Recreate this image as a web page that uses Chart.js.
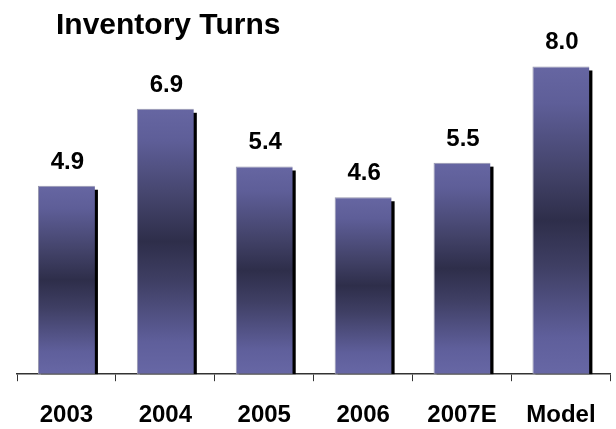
<!DOCTYPE html>
<html>
<head>
<meta charset="utf-8">
<script src="https://cdn.jsdelivr.net/npm/chart.js@4/dist/chart.umd.min.js"></script>
<style>
  html, body { margin: 0; padding: 0; background: #ffffff; }
  #wrap { position: relative; width: 616px; height: 429px; }
  #title {
    position: absolute; left: 56px; top: 9px;
    font: bold 30px "Liberation Sans", Arial, sans-serif; line-height: 30px;
    color: #000; white-space: nowrap;
  }
</style>
</head>
<body>
<div id="wrap">
  <canvas id="chart" width="616" height="429"></canvas>
  <div id="title">Inventory Turns</div>
</div>
<script>
// Inventory turns by year, plus the target model
const categories = ['2003', '2004', '2005', '2006', '2007E', 'Model'];
const turns = [4.9, 6.9, 5.4, 4.6, 5.5, 8.0];
const valueLabels = ['4.9', '6.9', '5.4', '4.6', '5.5', '8.0'];

const FONT = '"Liberation Sans", Arial, sans-serif';

// Each bar gets its own vertical gradient: light ends, dark middle
function barGradient(context) {
  const chart = context.chart;
  const yScale = chart.scales.y;
  if (!yScale || context.dataIndex === undefined) return '#5e5e96';
  const v = context.dataset.data[context.dataIndex];
  const top = yScale.getPixelForValue(v);
  const base = yScale.getPixelForValue(0);
  if (!isFinite(top) || !isFinite(base) || base - top < 1) return '#5e5e96';
  const g = chart.ctx.createLinearGradient(0, top, 0, base);
  g.addColorStop(0.00, '#6666a2');
  g.addColorStop(0.12, '#5e5e98');
  g.addColorStop(0.35, '#424268');
  g.addColorStop(0.50, '#2e2e4a');
  g.addColorStop(0.65, '#3f3f64');
  g.addColorStop(0.88, '#5f5f9b');
  g.addColorStop(1.00, '#6767a5');
  return g;
}

// Hard black drop shadow to the lower right of every bar, stopping at the axis
const barShadow = {
  id: 'barShadow',
  beforeDatasetsDraw(chart) {
    const ctx = chart.ctx;
    const meta = chart.getDatasetMeta(0);
    ctx.save();
    ctx.fillStyle = '#000000';
    meta.data.forEach((bar) => {
      const p = bar.getProps(['x', 'y', 'base', 'width'], true);
      const left = p.x - p.width / 2 + 3;
      const top = p.y + 4;
      ctx.fillRect(left, top, p.width, p.base - top);
    });
    ctx.restore();
  }
};

// Value printed above each bar
const valueTags = {
  id: 'valueTags',
  afterDatasetsDraw(chart) {
    const ctx = chart.ctx;
    const meta = chart.getDatasetMeta(0);
    ctx.save();
    ctx.font = 'bold 24px ' + FONT;
    ctx.fillStyle = '#000000';
    ctx.textAlign = 'center';
    ctx.textBaseline = 'alphabetic';
    meta.data.forEach((bar, i) => {
      ctx.fillText(valueLabels[i], bar.x + 1, bar.y - 17);
    });
    ctx.restore();
  }
};

new Chart(document.getElementById('chart'), {
  type: 'bar',
  data: {
    labels: categories,
    datasets: [{
      data: turns,
      backgroundColor: barGradient,
      borderColor: 'rgba(140,140,165,0.9)',
      borderWidth: { top: 1, left: 1, right: 0, bottom: 1 },
      borderSkipped: false,
      categoryPercentage: 1.0,
      barPercentage: 0.576
    }]
  },
  options: {
    responsive: false,
    animation: false,
    devicePixelRatio: 1,
    layout: { padding: { top: 28, left: 17, right: 5, bottom: -21 } },
    plugins: {
      legend: { display: false },
      tooltip: { enabled: false },
      title: { display: false }
    },
    scales: {
      x: {
        grid: {
          display: true,
          offset: true,
          drawOnChartArea: false,
          drawTicks: true,
          tickLength: 7,
          tickWidth: 1,
          tickColor: '#333333',
          color: '#333333'
        },
        border: { display: true, color: '#333333', width: 1.5 },
        ticks: {
          color: '#000000',
          padding: 20,
          font: { family: FONT, size: 24, weight: 'bold' }
        }
      },
      y: {
        display: false,
        min: 0,
        max: 9
      }
    }
  },
  plugins: [barShadow, valueTags]
});
</script>
</body>
</html>
